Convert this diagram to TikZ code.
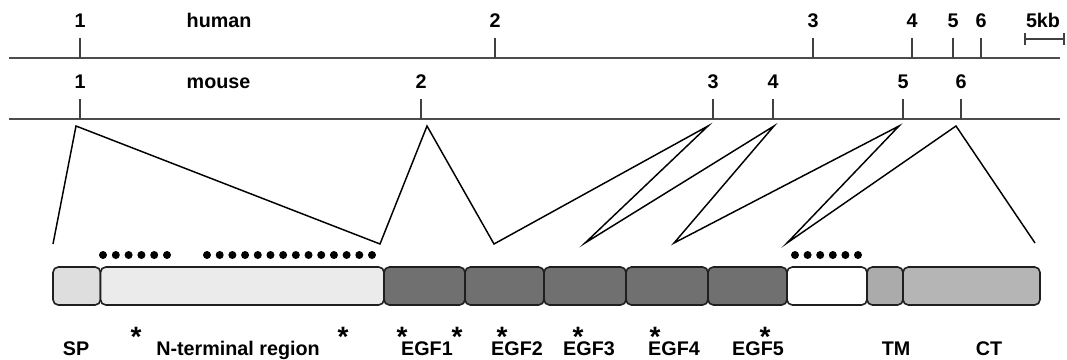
\documentclass[tikz,border=0pt]{standalone}
\usepackage{fontspec}
\setmainfont{Liberation Sans}
\newcommand{\dom}[4]{\node[dom,fill=#4,minimum width={(#3-#2)*0.75pt}] (#1) at ({(#2+#3)/2},286) {};}
\newcommand{\dotrow}[3]{\foreach \i in {0,...,#3} \fill ({#1+\i*(#2-#1)/#3},255) circle[radius=3pt];}

\begin{document}
\begin{tikzpicture}[x=0.75pt,y=-0.75pt,
    font=\bfseries\fontsize{14.8}{17}\selectfont,
    axis/.style={line width=1.5pt,draw=black!70},
    tck/.style={line width=1.2pt,draw=black!75},
    star/.style={anchor=north,inner sep=0pt,text height=15.2pt,text depth=-8.5pt,font=\bfseries\fontsize{21}{21}\selectfont},
    dom/.style={draw=black!88,line width=1.2pt,rounded corners=4pt,minimum height=28.5pt,inner sep=0pt}]
  \useasboundingbox (0,0) rectangle (1067,360);

  % genomic maps
  \draw[axis] (9,58) coordinate (hl) -- (1060,58) coordinate (hr);
  \draw[axis] (9,119) coordinate (ml) -- (1060,119) coordinate (mr);
  \node[anchor=base west] (hum) at (182,27.5) {human};
  \node[anchor=base west] (mou) at (182,89) {mouse};
  \foreach \x/\n in {80/1,495/2,813/3,912/4,953/5,981/6} {
    \node[anchor=base] (h\n) at (\x,27.5) {\n};
    \draw[tck] (\x,58) coordinate (ht\n) -- ++(0,-20);
  }
  \foreach \x/\n in {80/1,421/2,713/3,773/4,903/5,961/6} {
    \node[anchor=base] (m\n) at (\x,89) {\n};
    \draw[tck] (\x,119) coordinate (mt\n) -- ++(0,-20);
  }
  \node[anchor=base] (kb) at (1043,27.5) {5kb};
  \draw[tck,|-|] (1024,39) coordinate (kbl) -- (1065,39) coordinate (kbr);

  % exons to protein
  \coordinate (p1) at (76,126);  \coordinate (p2) at (427,126);
  \coordinate (p3) at (708,126); \coordinate (p4) at (774,126);
  \coordinate (p5) at (899,126); \coordinate (p6) at (956,126);
  \coordinate (b0) at (53,244);  \coordinate (b1) at (380,244);
  \coordinate (b2) at (494,244); \coordinate (b3) at (585,243);
  \coordinate (b4) at (674,243); \coordinate (b5) at (787,243);
  \coordinate (b6) at (1035,243);
  \draw[line width=1.1pt] (b0) -- (p1) -- (b1) -- (p2) -- (b2) -- (p3) -- (b3)
    -- (p4) -- (b4) -- (p5) -- (b5) -- (p6) -- (b6);

  % domains
  \dom{sp}{53}{100.5}{black!13}
  \dom{nt}{100.5}{384}{black!8}
  \dom{egfa}{384}{465}{black!56}
  \dom{egfb}{465}{544}{black!56}
  \dom{egfc}{544}{626}{black!56}
  \dom{egfd}{626}{708}{black!56}
  \dom{egfe}{708}{787}{black!56}
  \dom{wh}{787}{867}{white}
  \dom{tm}{867}{903}{black!33}
  \dom{ct}{903}{1040}{black!29}

  \dotrow{103}{167}{5}
  \dotrow{207}{372}{13}
  \dotrow{795}{858}{5}

  \foreach \x [count=\k] in {136,343,402,457,502,578,655,765}
    \node[star] (st\k) at (\x,326) {*};

  \foreach \x/\t [count=\k] in {76/SP,238/N-terminal region,427/EGF1,517/EGF2,589/EGF3,674/EGF4,758/EGF5,896/TM,989/CT}
    \node[anchor=base,inner sep=0pt] (lb\k) at (\x,355.5) {\t};
\end{tikzpicture}
\end{document}
